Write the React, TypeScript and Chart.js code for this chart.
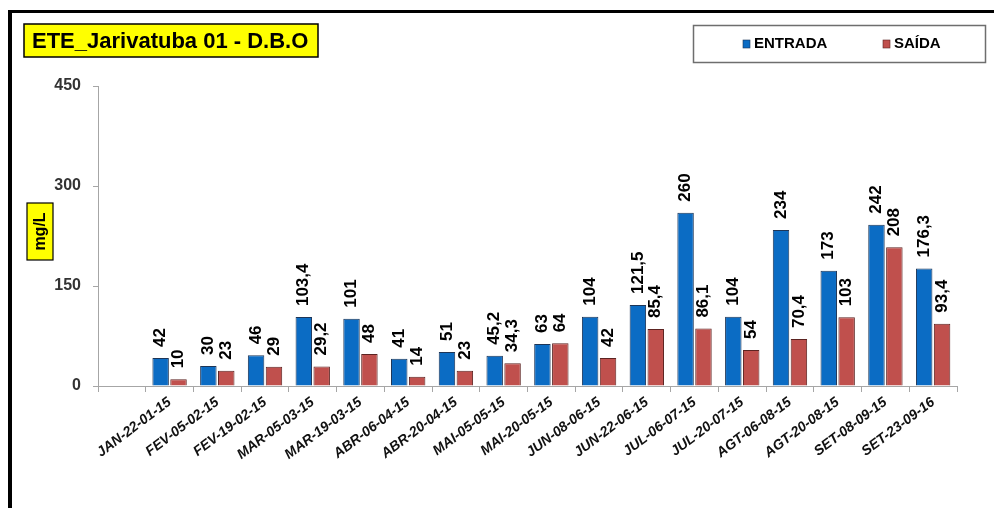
import React, { useEffect, useRef } from "react";
import { Chart, registerables } from "chart.js";

Chart.register(...registerables);

const categories = [
  "",
  "JAN-22-01-15",
  "FEV-05-02-15",
  "FEV-19-02-15",
  "MAR-05-03-15",
  "MAR-19-03-15",
  "ABR-06-04-15",
  "ABR-20-04-15",
  "MAI-05-05-15",
  "MAI-20-05-15",
  "JUN-08-06-15",
  "JUN-22-06-15",
  "JUL-06-07-15",
  "JUL-20-07-15",
  "AGT-06-08-15",
  "AGT-20-08-15",
  "SET-08-09-15",
  "SET-23-09-16",
];
const entrada = [null, 42, 30, 46, 103.4, 101, 41, 51, 45.2, 63, 104, 121.5, 260, 104, 234, 173, 242, 176.3];
const saida = [null, 10, 23, 29, 29.2, 48, 14, 23, 34.3, 64, 42, 85.4, 86.1, 54, 70.4, 103, 208, 93.4];
const yMin = 0;
const yMax = 450;
const yStep = 150;
const chartTitle = "ETE_Jarivatuba 01 - D.B.O";
const yAxisTitle = "mg/L";
const seriesNames = ["ENTRADA", "SAÍDA"];

const BLUE = "#0b6cc4";
const BLUE_BORDER = "#1d3557";
const RED = "#c0504d";
const RED_BORDER = "#5c2321";
const FONT = "Arial, 'Liberation Sans', sans-serif";

const fmt = (v: number) => String(v).replace(".", ",");

const decorPlugin = {
  id: "decor",
  afterDatasetsDraw(chart: any) {
    const ctx = chart.ctx;
    ctx.save();
    ctx.fillStyle = "#000";
    ctx.font = `bold 17px ${FONT}`;
    ctx.textAlign = "left";
    ctx.textBaseline = "middle";
    chart.data.datasets.forEach((ds: any, i: number) => {
      const meta = chart.getDatasetMeta(i);
      meta.data.forEach((bar: any, j: number) => {
        const v = ds.data[j];
        if (v == null) return;
        ctx.save();
        ctx.translate(bar.x, bar.y - 11);
        ctx.rotate(-Math.PI / 2);
        ctx.fillText(fmt(v), 0, 0);
        ctx.restore();
      });
    });
    ctx.restore();
  },
  afterDraw(chart: any) {
    const ctx = chart.ctx;
    ctx.save();
    // outer frame (top + left)
    ctx.fillStyle = "#000";
    ctx.fillRect(8, 10, 986, 3);
    ctx.fillRect(8, 10, 4, 498);

    // title box
    ctx.fillStyle = "#ffff00";
    ctx.fillRect(24, 24, 294, 33);
    ctx.strokeStyle = "#000";
    ctx.lineWidth = 1.5;
    ctx.strokeRect(24, 24, 294, 33);
    ctx.fillStyle = "#000";
    ctx.font = `bold 22px ${FONT}`;
    ctx.textAlign = "left";
    ctx.textBaseline = "middle";
    ctx.fillText(chartTitle, 32, 41.5);

    // legend box
    ctx.strokeStyle = "#6e6e6e";
    ctx.lineWidth = 1.5;
    ctx.strokeRect(693.5, 25.5, 292, 37);
    const items = [
      { x: 743, color: BLUE, border: BLUE_BORDER },
      { x: 883, color: RED, border: RED_BORDER },
    ];
    ctx.font = `bold 15px ${FONT}`;
    chart.data.datasets.forEach((ds: any, i: number) => {
      const it = items[i];
      ctx.fillStyle = it.color;
      ctx.fillRect(it.x, 40, 7, 8);
      ctx.strokeStyle = it.border;
      ctx.lineWidth = 0.6;
      ctx.strokeRect(it.x, 40, 7, 8);
      ctx.fillStyle = "#000";
      ctx.fillText(ds.label, it.x + 11, 44);
    });

    // y axis title box
    ctx.fillStyle = "#ffff00";
    ctx.fillRect(27, 203, 26, 57);
    ctx.strokeStyle = "#000";
    ctx.lineWidth = 1.2;
    ctx.strokeRect(27, 203, 26, 57);
    ctx.save();
    ctx.translate(41, 231.5);
    ctx.rotate(-Math.PI / 2);
    ctx.fillStyle = "#000";
    ctx.font = `bold 16px ${FONT}`;
    ctx.textAlign = "center";
    ctx.textBaseline = "middle";
    ctx.fillText(yAxisTitle, 0, 0);
    ctx.restore();
    ctx.restore();
  },
};

export default function App() {
  const ref = useRef<HTMLCanvasElement | null>(null);
  useEffect(() => {
    document.body.style.margin = "0";
    const canvas = ref.current;
    if (!canvas) return;
    const chart = new Chart(canvas, {
      type: "bar",
      data: {
        labels: categories,
        datasets: [
          {
            label: seriesNames[0],
            data: entrada,
            backgroundColor: BLUE,
            borderColor: BLUE_BORDER,
            borderWidth: 1,
            categoryPercentage: 0.75,
            barPercentage: 0.92,
          },
          {
            label: seriesNames[1],
            data: saida,
            backgroundColor: RED,
            borderColor: RED_BORDER,
            borderWidth: 1,
            categoryPercentage: 0.75,
            barPercentage: 0.92,
          },
        ],
      },
      options: {
        responsive: false,
        animation: false,
        devicePixelRatio: 1,
        layout: { padding: { top: 86, right: 37, left: 0, bottom: 0 } },
        plugins: {
          legend: { display: false },
          title: { display: false },
          tooltip: { enabled: false },
        },
        scales: {
          x: {
            grid: {
              display: true,
              drawOnChartArea: false,
              drawTicks: true,
              tickLength: 6,
              color: "#a6a6a6",
              offset: true,
            },
            border: { display: true, color: "#a6a6a6", width: 1 },
            ticks: {
              autoSkip: false,
              maxRotation: 37,
              minRotation: 37,
              padding: 2,
              color: "#111",
              font: { family: FONT, size: 14, weight: "bold", style: "italic" },
            },
            afterFit: (s: any) => {
              s.height = 122;
            },
          },
          y: {
            min: yMin,
            max: yMax,
            ticks: {
              stepSize: yStep,
              padding: 12,
              color: "#333",
              font: { family: FONT, size: 16, weight: "bold" },
            },
            grid: {
              display: true,
              drawOnChartArea: false,
              drawTicks: true,
              tickLength: 5,
              color: "#a6a6a6",
            },
            border: { display: true, color: "#a6a6a6", width: 1 },
            afterFit: (s: any) => {
              s.width = 98;
            },
          },
        },
      },
      plugins: [decorPlugin],
    });
    return () => chart.destroy();
  }, []);
  return (
    <div style={{ width: 994, height: 508, position: "relative", background: "#fff" }}>
      <canvas ref={ref} width={994} height={508} style={{ display: "block", width: 994, height: 508 }} />
    </div>
  );
}
